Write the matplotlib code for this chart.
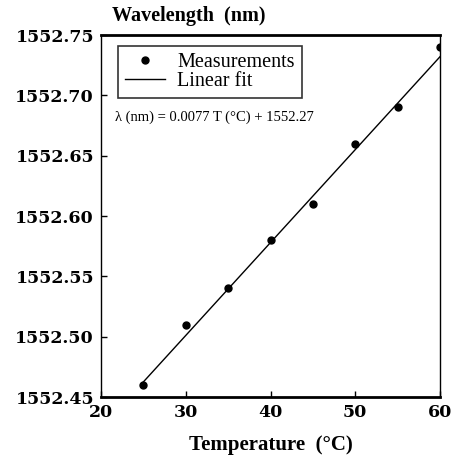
import matplotlib
matplotlib.use("Agg")
import matplotlib.pyplot as plt

# measured points
temperature = [25, 30, 35, 40, 45, 50, 55, 60]
wavelength = [1552.46, 1552.51, 1552.54, 1552.58, 1552.61, 1552.66, 1552.69, 1552.74]

# linear fit reported on the chart
slope = 0.0077
intercept = 1552.27
fit_t = [25, 60]

x_ticks = [20, 30, 40, 50, 60]
y_ticks = [1552.45, 1552.50, 1552.55, 1552.60, 1552.65, 1552.70, 1552.75]

plt.rcParams["font.family"] = ["Liberation Serif", "DejaVu Serif"]

fig = plt.figure(figsize=(4.56, 4.63), dpi=100)
ax = fig.add_axes([101 / 456, 1 - 397 / 463, 339 / 456, 362 / 463])

ax.plot(temperature, wavelength, "o", color="black", markersize=5, label="Measurements")
fit_w = [slope * t + intercept for t in fit_t]
ax.plot(fit_t, fit_w, "-", color="black", linewidth=1.0, label="Linear fit")

ax.set_xlim(20, 60)
ax.set_ylim(1552.45, 1552.75)
ax.set_xticks(x_ticks)
ax.set_yticks(y_ticks)
tick_font = dict(family="DejaVu Serif", fontsize=12.5, fontweight="bold")
ax.set_xticklabels([str(v) for v in x_ticks], **tick_font)
ax.set_yticklabels([f"{v:.2f}" for v in y_ticks], **tick_font)
ax.tick_params(direction="in", length=4, width=1, pad=5)

for side in ["top", "bottom"]:
    ax.spines[side].set_linewidth(2.0)
for side in ["left", "right"]:
    ax.spines[side].set_linewidth(1.0)

leg = ax.legend(loc="upper left", bbox_to_anchor=(0.05, 0.97), fontsize=14.5,
                frameon=True, fancybox=False, edgecolor="black",
                handlelength=2.0, borderpad=0.35, labelspacing=0.0,
                handletextpad=0.6, borderaxespad=0)
leg.get_frame().set_linewidth(1.2)

ax.text(0.04, 0.772, "λ (nm) = 0.0077 T (°C) + 1552.27", transform=ax.transAxes,
        fontsize=10.5, ha="left", va="center", family=["Liberation Serif", "DejaVu Sans"])

fig.text(189 / 456, 1 - 16 / 463, "Wavelength  (nm)", fontsize=14.5, fontweight="bold",
         ha="center", va="center")
ax.set_xlabel("Temperature  (°C)", fontsize=15, fontweight="bold", labelpad=10)

fig.savefig("out.png", dpi=100)
